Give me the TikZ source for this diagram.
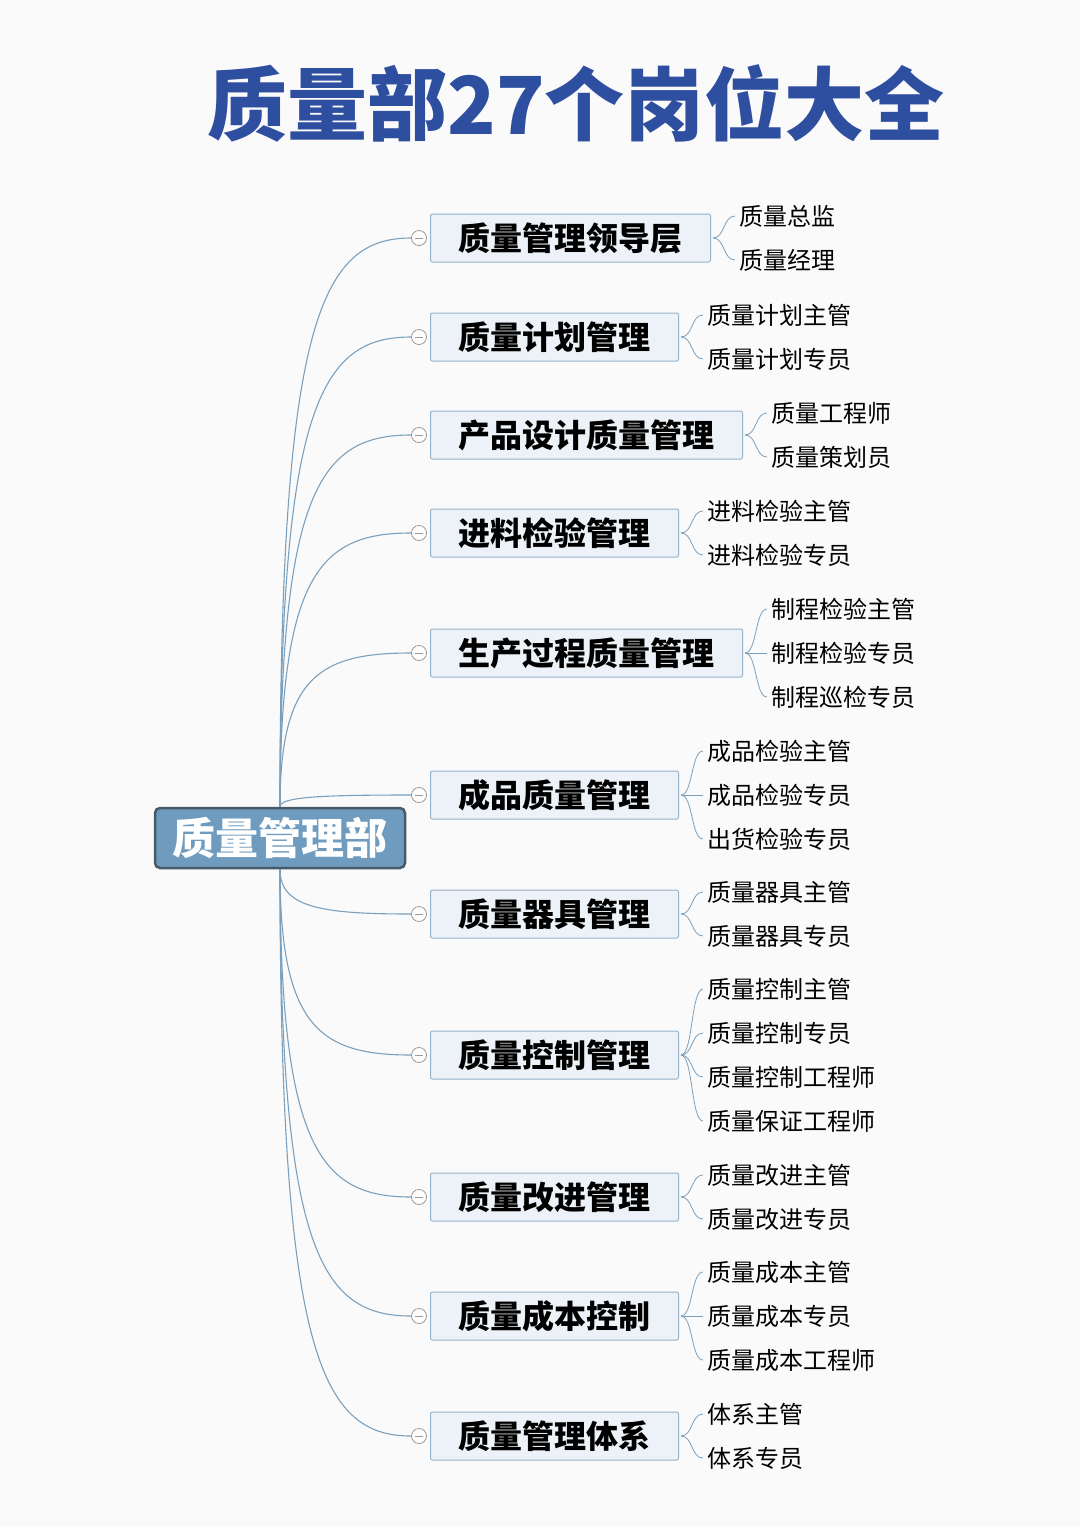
\documentclass[tikz,border=0pt]{standalone}
\usepackage{fontspec}
\setmainfont{Noto Sans CJK SC}
\usetikzlibrary{positioning}
\definecolor{lineblue}{RGB}{122,160,190}
\definecolor{rootfill}{RGB}{110,155,190}
\definecolor{rootdraw}{RGB}{70,90,105}
\definecolor{boxfill}{RGB}{236,242,247}
\definecolor{titleblue}{RGB}{46,78,160}
\begin{document}
\begin{tikzpicture}[x=1pt,y=-1pt,
        link/.style={draw=lineblue, line width=1.1pt},
        root/.style={rounded corners=5pt, fill=rootfill, draw=rootdraw, line width=2.5pt, text=white,
                     minimum width=250pt, minimum height=60pt, font=\fontsize{43}{46}\selectfont\bfseries},
        branch/.style={rounded corners=2pt, fill=boxfill, draw=lineblue!80, line width=1pt, anchor=west,
                       minimum height=48pt, inner xsep=28pt, font=\fontsize{32}{36}\selectfont\bfseries},
        fold/.style={circle, draw=gray!80, fill=white, line width=0.8pt, inner sep=0pt, minimum size=15pt},
        leaf/.style={anchor=west, inner sep=0pt, font=\fontsize{24}{28}\selectfont},
    ]
    \fill[black!2] (0,0) rectangle (1080,1527);
    \useasboundingbox (0,0) rectangle (1080,1527);

    \node[text=titleblue, font=\fontsize{80}{88}\selectfont\bfseries] (title) at (576,103) {质量部27个岗位大全};
    \node[root] (r) at (280,838) {质量管理部};

    \foreach \y/\t/\n/\lv [count=\i] in {
        238/质量管理领导层/2/{质量总监,质量经理},
        337/质量计划管理/2/{质量计划主管,质量计划专员},
        435/产品设计质量管理/2/{质量工程师,质量策划员},
        533/进料检验管理/2/{进料检验主管,进料检验专员},
        653/生产过程质量管理/3/{制程检验主管,制程检验专员,制程巡检专员},
        795/成品质量管理/3/{成品检验主管,成品检验专员,出货检验专员},
        914/质量器具管理/2/{质量器具主管,质量器具专员},
        1055/质量控制管理/4/{质量控制主管,质量控制专员,质量控制工程师,质量保证工程师},
        1197/质量改进管理/2/{质量改进主管,质量改进专员},
        1316/质量成本控制/3/{质量成本主管,质量成本专员,质量成本工程师},
        1436/质量管理体系/2/{体系主管,体系专员}} {
        \node[branch] (b\i) at (430,\y) {\t};
        \ifnum\y<838
            \draw[link] (r.north) .. controls (280,{\y+0.15*(808-\y)}) and (320,\y) .. (411,\y);
        \else
            \draw[link] (r.south) .. controls (280,{\y-0.15*(\y-868)}) and (320,\y) .. (411,\y);
        \fi
        \node[fold] (c\i) at (419,\y) {};
        \draw[gray!80, line width=1pt] ([xshift=-4pt]c\i.center) -- ([xshift=4pt]c\i.center);
        \foreach \l [count=\j] in \lv {
            \node[leaf] (l\i-\j) at ([xshift=28pt,yshift={-(\j-(\n+1)/2)*44}]b\i.east) {\l};
            \coordinate (k\i-\j) at (b\i.east |- l\i-\j.west);
            \draw[link, line width=0.8pt] ([xshift=2pt]b\i.east) .. controls ([xshift=14pt]b\i.east) and ([xshift=12pt]k\i-\j) .. ([xshift=-4pt]l\i-\j.west);
        }
    }
\end{tikzpicture}
\end{document}
